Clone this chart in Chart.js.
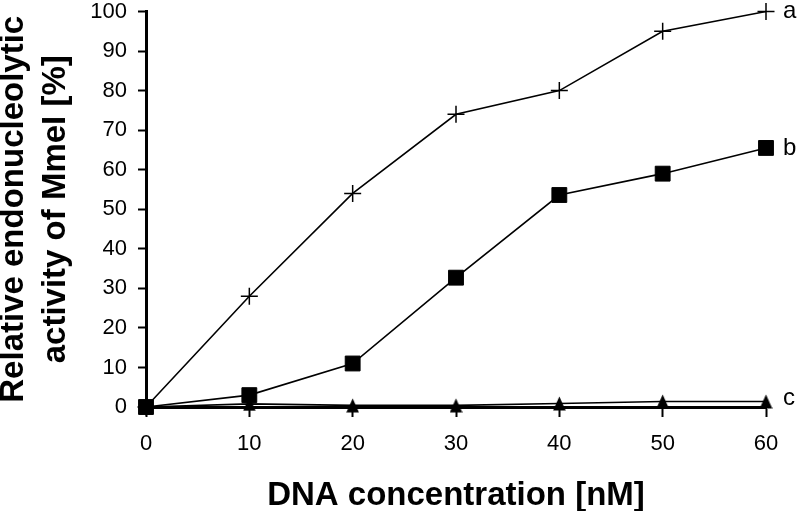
<!DOCTYPE html>
<html>
<head>
<meta charset="utf-8">
<script src="https://cdn.jsdelivr.net/npm/chart.js@4/dist/chart.umd.min.js"></script>
<style>
  html, body { margin: 0; padding: 0; background: #fff; }
  #wrap { width: 800px; height: 511px; }
</style>
</head>
<body>
<div id="wrap"><canvas id="c" width="800" height="511"></canvas></div>
<script>
// DNA concentration [nM]
const concentrations = [0, 10, 20, 30, 40, 50, 60];
// Relative endonucleolytic activity [%]
const seriesA = [0, 28, 54, 74, 80, 95, 100];
const seriesB = [0, 3, 11, 32.7, 53.6, 59, 65.5];
const seriesC = [0, 0.8, 0.4, 0.4, 0.9, 1.4, 1.4];
const seriesLabels = ['a', 'b', 'c'];
const xTicks = [0, 10, 20, 30, 40, 50, 60];
const yTicks = [0, 10, 20, 30, 40, 50, 60, 70, 80, 90, 100];

const FONT = '"Liberation Sans", Arial, Helvetica, sans-serif';

function pts(vals) {
  return concentrations.map((x, i) => ({ x: x, y: vals[i] }));
}

// narrow filled triangle marker
const tri = document.createElement('canvas');
tri.width = 13; tri.height = 15;
(function () {
  const g = tri.getContext('2d');
  g.fillStyle = '#000';
  g.beginPath();
  g.moveTo(6.5, 0.5);
  g.lineTo(12.8, 14.5);
  g.lineTo(0.2, 14.5);
  g.closePath();
  g.fill();
})();

const endLabels = {
  id: 'endLabels',
  afterDatasetsDraw(chart) {
    const ctx = chart.ctx;
    ctx.save();
    ctx.font = '24px ' + FONT;
    ctx.fillStyle = '#000';
    ctx.textAlign = 'left';
    ctx.textBaseline = 'middle';
    chart.data.datasets.forEach((ds, i) => {
      const meta = chart.getDatasetMeta(i);
      const el = meta.data[meta.data.length - 1];
      if (!el) return;
      const dy = i === 2 ? -3 : 0;
      ctx.fillText(seriesLabels[i], el.x + 17, el.y + dy);
    });
    ctx.restore();
  }
};

const common = {
  borderColor: '#000',
  backgroundColor: '#000',
  pointBorderColor: '#000',
  pointBackgroundColor: '#000',
  borderWidth: 1.6,
  tension: 0,
  clip: false,
  fill: false
};

new Chart(document.getElementById('c'), {
  type: 'line',
  data: {
    datasets: [
      Object.assign({}, common, {
        label: seriesLabels[0], data: pts(seriesA),
        pointStyle: 'cross', pointRadius: 8.5, pointBorderWidth: 1.5
      }),
      Object.assign({}, common, {
        label: seriesLabels[1], data: pts(seriesB),
        pointStyle: 'rect', pointRadius: 10.5, pointBorderWidth: 1
      }),
      Object.assign({}, common, {
        label: seriesLabels[2], data: pts(seriesC),
        pointStyle: tri, pointRadius: 7
      })
    ]
  },
  options: {
    responsive: false,
    animation: false,
    events: [],
    layout: { padding: { top: 10, right: 34, bottom: 0, left: 0 } },
    plugins: { legend: { display: false }, tooltip: { enabled: false } },
    scales: {
      x: {
        type: 'linear',
        min: 0, max: 60,
        afterFit(s) { s.height = 104; s.paddingLeft = 0; s.paddingRight = 0; },
        afterBuildTicks(s) { s.ticks = xTicks.map(v => ({ value: v })); },
        border: { display: true, color: '#000', width: 3 },
        grid: { drawOnChartArea: false, drawTicks: true, tickLength: 10, tickWidth: 2, tickColor: '#000', color: '#000' },
        ticks: { color: '#000', padding: 14, font: { family: FONT, size: 22 }, maxRotation: 0 },
        title: {
          display: true, text: 'DNA concentration [nM]', color: '#000',
          font: { family: FONT, size: 33, weight: 'bold', lineHeight: 1 },
          padding: { top: 0, bottom: -1 }
        }
      },
      y: {
        type: 'linear',
        min: 0, max: 100,
        afterFit(s) { s.width = 146; s.paddingTop = 0; s.paddingBottom = 0; },
        afterBuildTicks(s) { s.ticks = yTicks.map(v => ({ value: v })); },
        border: { display: true, color: '#000', width: 3 },
        grid: { drawOnChartArea: false, drawTicks: true, tickLength: 8, tickWidth: 2, tickColor: '#000', color: '#000' },
        ticks: { color: '#000', padding: 11, font: { family: FONT, size: 22 } },
        title: {
          display: true, text: ['Relative endonucleolytic', 'activity of MmeI [%]'], color: '#000',
          font: { family: FONT, size: 33, weight: 'bold', lineHeight: 42 / 33 },
          padding: { top: -7.4, bottom: 0 }
        }
      }
    }
  },
  plugins: [endLabels]
});
</script>
</body>
</html>
